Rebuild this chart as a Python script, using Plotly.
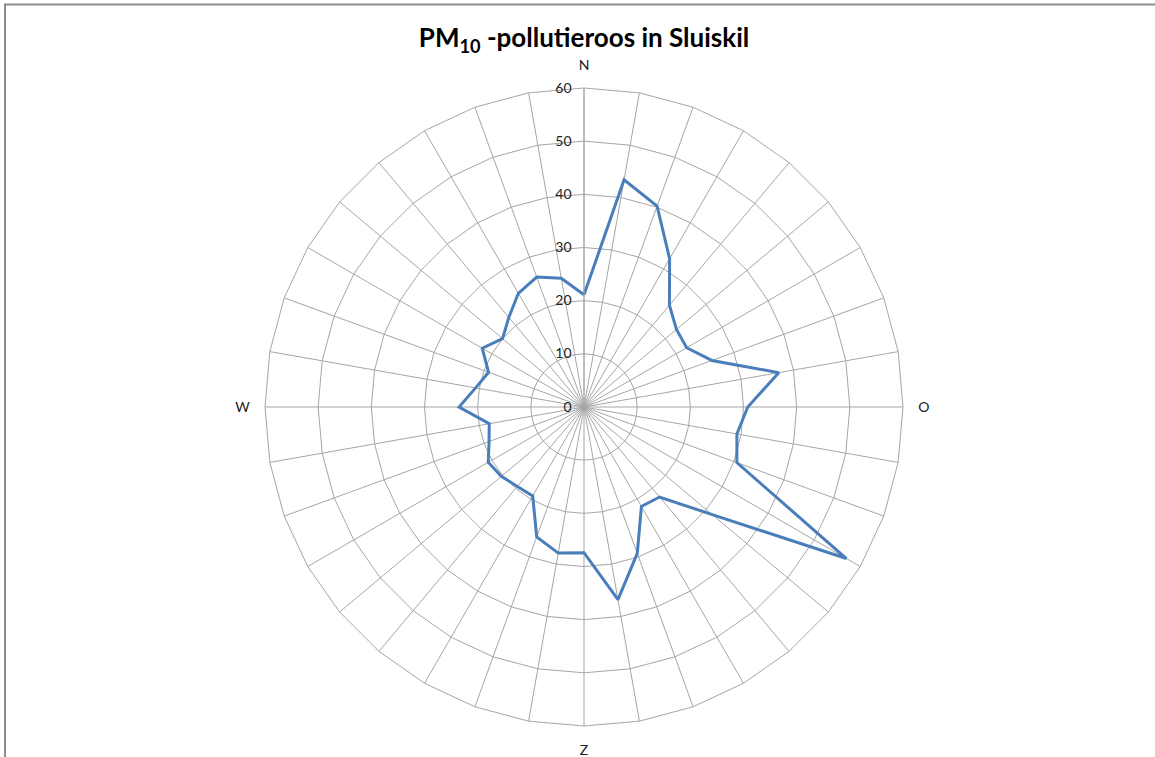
import plotly.graph_objects as go

# Wind directions (degrees, clockwise from north) and PM10 values
directions = [0, 10, 20, 30, 40, 50, 60, 70, 80, 90, 100, 110, 120, 130, 140, 150, 160, 170,
              180, 190, 200, 210, 220, 230, 240, 250, 260, 270, 280, 290, 300, 310, 320, 330, 340, 350]
pm10 = [21.1, 43.4, 40.2, 32.2, 25.0, 22.7, 22.3, 25.6, 37.2, 30.8, 29.2, 30.6, 57.0, 31.5, 22.1, 21.6, 29.3, 36.8,
        27.4, 27.9, 26.0, 19.3, 19.5, 20.3, 20.8, 19.0, 18.1, 23.5, 20.7, 19.1, 22.1, 20.0, 22.0, 24.7, 26.0, 24.6]
compass_labels = {0: "N", 90: "O", 180: "Z", 270: "W"}
radial_ticks = [0, 10, 20, 30, 40, 50, 60]

categories = [f"{d}°" for d in directions]
ticktext = [compass_labels.get(d, "") for d in directions]

W, H = 1155, 757
cx, cy, R = 584, 407, 319

fig = go.Figure()
fig.add_trace(go.Scatterpolar(
    r=pm10 + [pm10[0]],
    theta=categories + [categories[0]],
    mode="lines",
    line=dict(color="#4A7EBB", width=3),
    showlegend=False,
    hoverinfo="skip",
))

fig.update_layout(
    width=W, height=H,
    margin=dict(l=0, r=0, t=0, b=0),
    paper_bgcolor="white",
    font=dict(family="Lato, Open Sans, sans-serif", size=13, color="#222"),
    title=dict(
        text="<b>PM<sub>10</sub> -pollutieroos in Sluiskil</b>",
        x=cx / W, xanchor="center",
        y=1 - 38 / H, yanchor="middle",
        font=dict(family="Lato, Open Sans, sans-serif", size=26, color="#000"),
    ),
    polar=dict(
        domain=dict(x=[(cx - R) / W, (cx + R) / W], y=[(H - cy - R) / H, (H - cy + R) / H]),
        bgcolor="white",
        gridshape="linear",
        angularaxis=dict(
            type="category",
            categoryorder="array", categoryarray=categories,
            rotation=90, direction="clockwise",
            tickmode="array", tickvals=categories, ticktext=ticktext,
            ticks="outside", ticklen=12, tickcolor="rgba(0,0,0,0)",
            tickfont=dict(size=14, color="#222"),
            showline=True, linecolor="#A6A6A6", linewidth=1,
            showgrid=True, gridcolor="#A6A6A6", gridwidth=1,
        ),
        radialaxis=dict(
            range=[0, 60], tickmode="array", tickvals=radial_ticks,
            angle=90, side="counterclockwise", tickangle=90,
            showline=True, linecolor="#A6A6A6", linewidth=1,
            showgrid=True, gridcolor="#A6A6A6", gridwidth=1,
            ticks="outside", ticklen=7, tickcolor="rgba(0,0,0,0)",
            tickfont=dict(size=14, color="#222"),
        ),
    ),
    shapes=[dict(type="rect", xref="paper", yref="paper",
                 x0=5 / W, x1=1.01, y0=-0.01, y1=1 - 4.5 / H,
                 line=dict(color="#8C8C8C", width=2), fillcolor="rgba(0,0,0,0)", layer="below")],
)

fig.write_html("out.html", config={"displayModeBar": False},
               post_script="document.body.style.margin='0';")
